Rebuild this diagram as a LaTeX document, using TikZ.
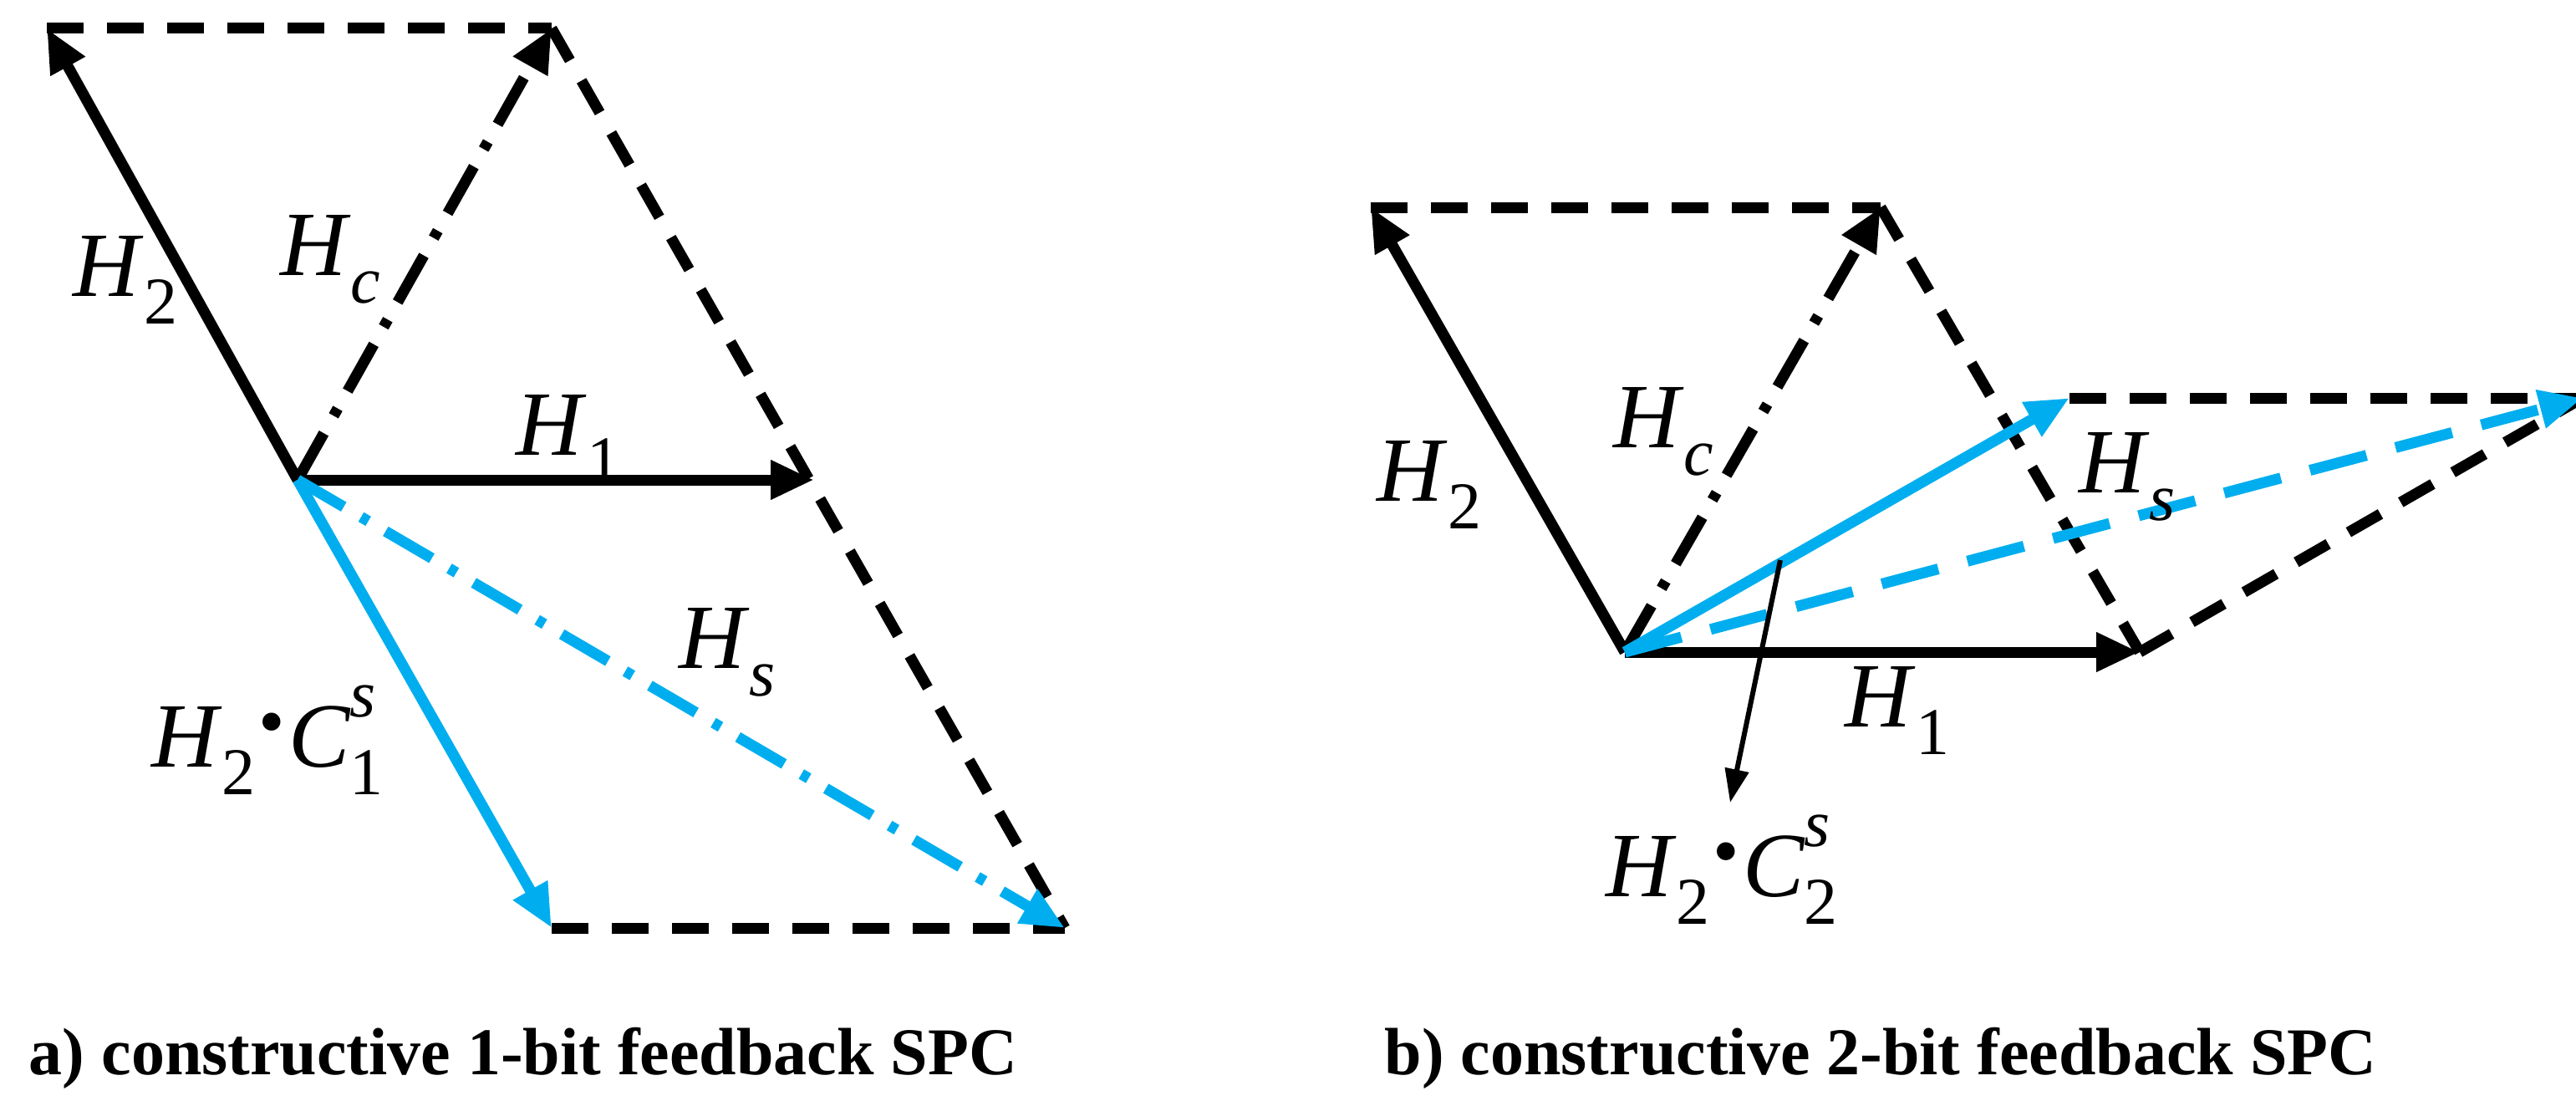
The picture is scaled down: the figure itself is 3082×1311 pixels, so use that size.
\documentclass[tikz,border=0pt]{standalone}
\usepackage{fontspec}
\setmainfont{Liberation Serif}
\usetikzlibrary{arrows.meta}
\definecolor{cblue}{RGB}{0,174,239}
\newcommand{\vlab}[2]{\itshape #1\/\raisebox{-0.3em}{\fontsize{80}{90}\selectfont #2}}
\newcommand{\vnum}[2]{\itshape #1\/\raisebox{-0.3em}{\upshape\fontsize{80}{90}\selectfont #2}}
\newcommand{\dotop}{\kern4pt\raisebox{0.22em}{\fontsize{90}{90}\selectfont\upshape •}\kern4pt}
\begin{document}
\begin{tikzpicture}[x=1pt,y=-1pt,
  vec/.style={line width=13pt,-{Triangle[length=52pt,width=44pt]}},
  thinvec/.style={line width=6pt,-{Triangle[length=40pt,width=28pt]}},
  dsh/.style={line width=13pt,dash pattern=on 44pt off 28pt},
  dashdt/.style={line width=13pt,dash pattern=on 64pt off 24pt on 10pt off 24pt},
  lab/.style={font=\fontsize{110}{120}\selectfont, inner sep=0pt},
  captxt/.style={font=\fontsize{80}{90}\selectfont\bfseries, inner sep=0pt}]
\useasboundingbox (0,0) rectangle (3082,1311);
% panel a
\coordinate (Oa) at (356,574);
\coordinate (A2) at (56,34);
\coordinate (Ac) at (660,34);
\coordinate (A1) at (974,574);
\coordinate (Ab) at (660,1110);
\coordinate (As) at (1274,1110);
\draw[dsh] (A2) -- (Ac);
\draw[dsh] (Ac) -- (As);
\draw[dsh] (Ab) -- (As);
\draw[vec] (Oa) -- (A2);
\draw[vec,dashdt] (Oa) -- (Ac);
\draw[vec] (Oa) -- (A1);
\draw[vec,cblue] (Oa) -- (Ab);
\draw[vec,dashdt,cblue] (Oa) -- (As);
\node[lab] (la2) at (150,335) {\vnum{H}{2}};
\node[lab] (lac) at (395,310) {\vlab{H}{c}};
\node[lab] (la1) at (680,525) {\vnum{H}{1}};
\node[lab] (las) at (870,780) {\vlab{H}{s}};
\node[lab] (lacs) at (320,885) {\vnum{H}{2}\dotop\itshape C\rlap{\raisebox{0.55em}{\fontsize{80}{90}\selectfont s}}\raisebox{-0.3em}{\upshape\fontsize{80}{90}\selectfont 1}};
\node[captxt] (capa) at (626,1266) {a) constructive 1-bit feedback SPC};
% panel b
\coordinate (Ob) at (1944,780);
\coordinate (B2) at (1640,248);
\coordinate (Bc) at (2250,248);
\coordinate (B1) at (2560,780);
\coordinate (Bs1) at (2476,476);
\coordinate (Bs) at (3090,476);
\coordinate (Bt) at (2130,670);
\coordinate (Bd) at (2070,960);
\draw[dsh] (B2) -- (Bc);
\draw[dsh] (Bc) -- (B1);
\draw[dsh] (Bs1) -- (Bs);
\draw[dsh] (B1) -- (Bs);
\draw[vec] (Ob) -- (B2);
\draw[vec,dashdt] (Ob) -- (Bc);
\draw[vec] (Ob) -- (B1);
\draw[vec,cblue] (Ob) -- (Bs1);
\draw[vec,cblue,dash pattern=on 70pt off 36pt] (Ob) -- (Bs);
\draw[thinvec] (Bt) -- (Bd);
\node[lab] (lb2) at (1710,580) {\vnum{H}{2}};
\node[lab] (lbc) at (1990,516) {\vlab{H}{c}};
\node[lab] (lb1) at (2270,850) {\vnum{H}{1}};
\node[lab] (lbs) at (2545,570) {\vlab{H}{s}};
\node[lab] (lbcs) at (2060,1040) {\vnum{H}{2}\dotop\itshape C\rlap{\raisebox{0.55em}{\fontsize{80}{90}\selectfont s}}\raisebox{-0.3em}{\upshape\fontsize{80}{90}\selectfont 2}};
\node[captxt] (capb) at (2250,1266) {b) constructive 2-bit feedback SPC};
\end{tikzpicture}
\end{document}
